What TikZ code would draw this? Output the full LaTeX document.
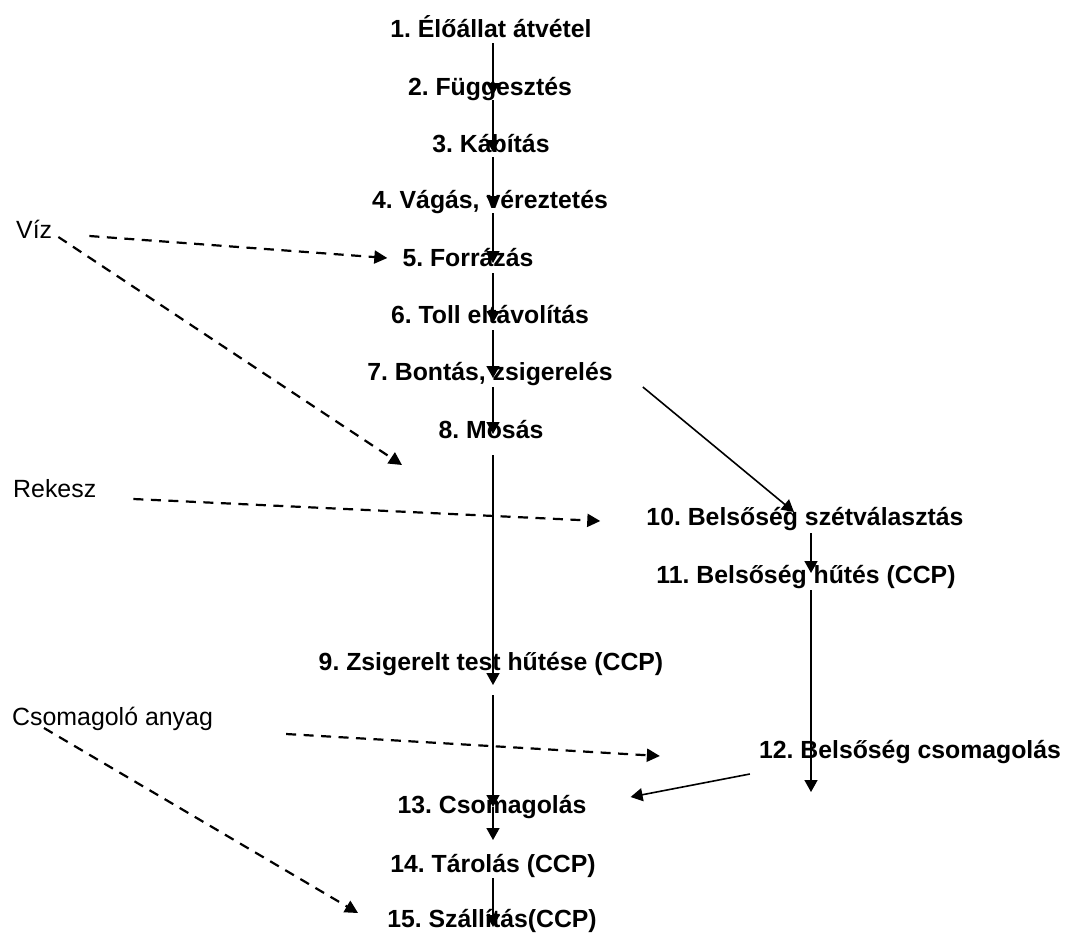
\documentclass[tikz,border=0pt]{standalone}
\usepackage{fontspec}
\setmainfont{Liberation Sans}
\usetikzlibrary{arrows.meta,calc}
\frenchspacing
\begin{document}
\begin{tikzpicture}[x=1pt,y=-1pt,
  stepnode/.style={font=\fontsize{24.8}{30}\selectfont\bfseries, inner sep=0pt, anchor=base},
  srcnode/.style={font=\fontsize{24.9}{30}\selectfont, inner sep=0pt, anchor=base west},
  flow/.style={line width=1.6pt, -{Triangle[length=12pt,width=13pt]}},
  supply/.style={line width=2.2pt, dash pattern=on 10pt off 7.5pt, -{Triangle[length=13pt,width=13pt]}}]
\useasboundingbox (0,0) rectangle (1065,935);
\fill[white] (0,0) rectangle (1065,935);
\coordinate (col) at (493,0);
\coordinate (rcol) at (811,0);
% process steps
\node[stepnode] (n1) at (491,37) {1. Élőállat átvétel};
\node[stepnode] (n2) at (490,95) {2. Függesztés};
\node[stepnode] (n3) at (491,152) {3. Kábítás};
\node[stepnode] (n4) at (490,208) {4. Vágás, véreztetés};
\node[stepnode] (n5) at (468,266) {5. Forrázás};
\node[stepnode] (n6) at (490,323) {6. Toll eltávolítás};
\node[stepnode] (n7) at (490,380) {7. Bontás, zsigerelés};
\node[stepnode] (n8) at (491,438) {8. Mosás};
\node[stepnode] (n9) at (491,670) {9. Zsigerelt test hűtése (CCP)};
\node[stepnode] (n10) at (805,525) {10. Belsőség szétválasztás};
\node[stepnode] (n11) at (806,583) {11. Belsőség hűtés (CCP)};
\node[stepnode] (n12) at (910,758) {12. Belsőség csomagolás};
\node[stepnode] (n13) at (492,813) {13. Csomagolás};
\node[stepnode] (n14) at (493,872) {14. Tárolás (CCP)};
\node[stepnode] (n15) at (492,927) {15. Szállítás(CCP)};
% inputs
\node[srcnode] (viz) at (16,238) {Víz};
\node[srcnode] (rek) at (13,497) {Rekesz};
\node[srcnode] (csom) at (12,725) {Csomagoló anyag};
% main column
\draw[flow] ($(n1.base -| col)+(0,6)$) -- (n2.base -| col);
\draw[flow] ($(n2.base -| col)+(0,5)$) -- (n3.base -| col);
\draw[flow] ($(n3.base -| col)+(0,5)$) -- (n4.base -| col);
\draw[flow] ($(n4.base -| col)+(0,5)$) -- ($(n5.base -| col)+(0,-3)$);
\draw[flow] ($(n5.base -| col)+(0,7)$) -- (n6.base -| col);
\draw[flow] ($(n6.base -| col)+(0,7)$) -- ($(n7.base -| col)+(0,-2)$);
\draw[flow] ($(n7.base -| col)+(0,7)$) -- ($(n8.base -| col)+(0,-4)$);
\draw[flow] ($(n8.base -| col)+(0,17)$) -- ($(n9.base -| col)+(0,15)$);
\draw[flow] ($(n9.base -| col)+(0,25)$) -- ($(n13.base -| col)+(0,-6)$);
\draw[flow] ($(n13.base -| col)+(0,-6)$) -- ($(n14.base -| col)+(0,-32)$);
\draw[flow] ($(n14.base -| col)+(0,6)$) -- (n15.base -| col);
% right column
\draw[flow] ($(n7.base east)+(30,7)$) -- ($(n10.base)+(-11,-13)$);
\draw[flow] ($(n10.base -| rcol)+(0,8)$) -- ($(n11.base -| rcol)+(0,-10)$);
\draw[flow] ($(n11.base -| rcol)+(0,7)$) -- ($(n12.base -| rcol)+(0,34)$);
\draw[flow] ($(n12.base west)+(-9,16)$) -- ($(n13.base east)+(44,-16)$);
% supplies
\draw[supply] ($(viz.base east)+(37,-2)$) -- ($(n5.base west)+(-15,-8)$);
\draw[supply] ($(viz.base east)+(6,-1)$) -- ($(n8.base)+(-89,27)$);
\draw[supply] ($(rek.base east)+(37,2)$) -- ($(n10.base west)+(-46,-4)$);
\draw[supply] ($(csom.base east)+(73,9)$) -- ($(n12.base west)+(-99,-2)$);
\draw[supply] ($(csom.base west)+(32,3)$) -- ($(n15.base west)+(-29,-14)$);
\end{tikzpicture}
\end{document}
